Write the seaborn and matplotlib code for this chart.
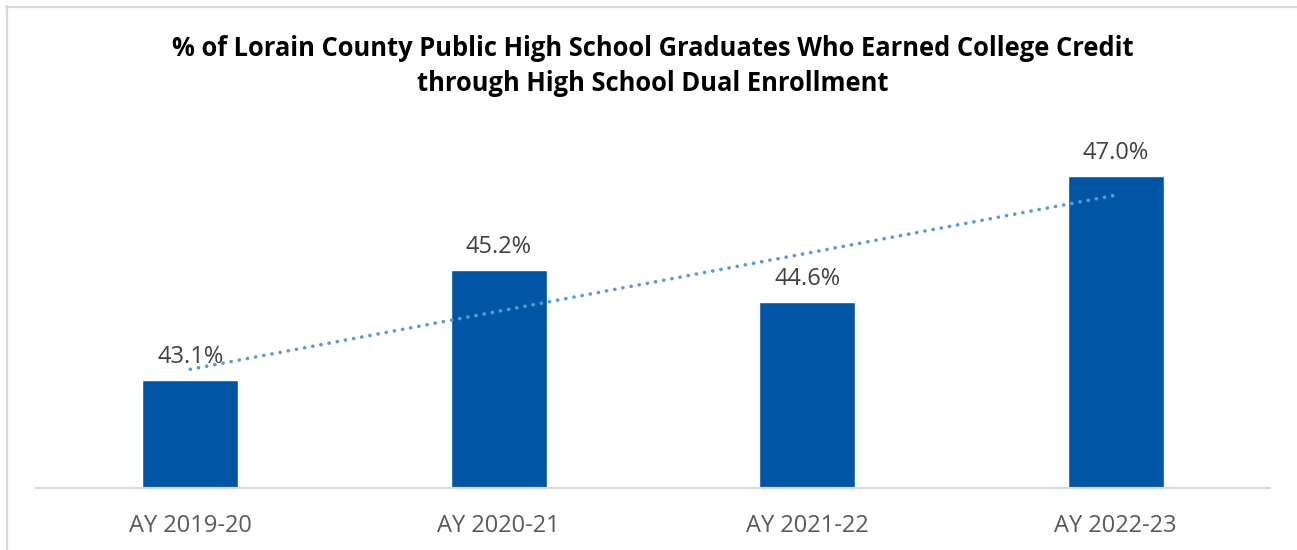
import matplotlib
matplotlib.use("Agg")
import matplotlib.pyplot as plt
import numpy as np
import pandas as pd
import seaborn as sns

years = ["AY 2019-20", "AY 2020-21", "AY 2021-22", "AY 2022-23"]
pct_dual_credit = [43.1, 45.2, 44.6, 47.0]
value_labels = ["43.1%", "45.2%", "44.6%", "47.0%"]

title_text = ("% of Lorain County Public High School Graduates Who Earned College Credit\n"
              "through High School Dual Enrollment")

sns.set_theme(style="white")
plt.rcParams["font.family"] = ["Open Sans", "DejaVu Sans"]

BAR_BLUE = "#0055A5"
TREND_BLUE = "#5B9BD5"

df = pd.DataFrame({"year": years, "pct": pct_dual_credit})

fig = plt.figure(figsize=(12.97, 5.5), dpi=100)
ax = fig.add_axes([36 / 1297, 62 / 550, 1234 / 1297, 364 / 550])

sns.barplot(data=df, x="year", y="pct", color=BAR_BLUE, saturation=1,
            width=0.31, ax=ax)
ax.set_ylim(41.04, 48)

# linear trend across the four years, drawn as round dots
sns.regplot(x=np.arange(len(years)), y=df["pct"].to_numpy(), ax=ax, ci=None,
            scatter=False, truncate=True,
            line_kws=dict(color=TREND_BLUE, lw=2.6, zorder=3))
trend = ax.lines[-1]
trend.set_linestyle((0, (0.05, 2.25)))
trend.set_dash_capstyle("round")

for cont in ax.containers:
    ax.bar_label(cont, labels=value_labels, padding=8, fontsize=17,
                 color="#404040")

ax.set_xlabel("")
ax.set_ylabel("")
ax.set_yticks([])
ax.set_xticks(range(len(years)))
ax.set_xticklabels(years, fontsize=17, color="#595959")
ax.tick_params(axis="x", length=0, pad=19)
ax.set_xlim(-0.5, 3.5)
for side in ["top", "left", "right"]:
    ax.spines[side].set_visible(False)
ax.spines["bottom"].set_color("#D9D9D9")
ax.spines["bottom"].set_linewidth(1.6)

fig.text(653 / 1297, 1 - 66 / 550, title_text, ha="center", va="center",
         fontsize=18.4, fontweight="bold", color="black", linespacing=1.4)

# outer chart frame
fig.add_artist(plt.Line2D([6.5 / 1297, 6.5 / 1297], [0, 1 - 6 / 550],
                          transform=fig.transFigure, color="#D9D9D9", lw=1.6))
fig.add_artist(plt.Line2D([6 / 1297, 1], [1 - 6.5 / 550, 1 - 6.5 / 550],
                          transform=fig.transFigure, color="#D9D9D9", lw=1.6))

fig.savefig("out.png", dpi=100, facecolor="white")
